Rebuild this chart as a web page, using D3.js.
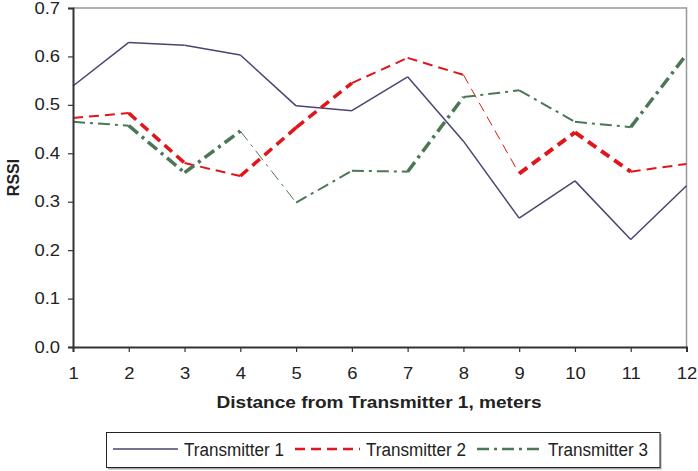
<!DOCTYPE html>
<html>
<head>
<meta charset="utf-8">
<script src="https://cdn.jsdelivr.net/npm/d3@7"></script>
<style>
  body { margin: 0; background: #fff; }
  text { font-family: "Liberation Sans", Arial, sans-serif; fill: #222; }
</style>
</head>
<body>
<script>
let w = 698;
let h = 471;

let distances = [1,2,3,4,5,6,7,8,9,10,11,12];
let tx1 = [0.539,0.629,0.623,0.603,0.498,0.488,0.558,0.425,0.266,0.343,0.222,0.333];
let tx2 = [0.473,0.483,0.380,0.353,0.453,0.545,0.597,0.562,0.358,0.443,0.362,0.378];
let tx3 = [0.465,0.457,0.360,0.446,0.298,0.364,0.362,0.516,0.530,0.465,0.454,0.604];
let seriesNames = ["Transmitter 1","Transmitter 2","Transmitter 3"];
let yTicks = [0,0.1,0.2,0.3,0.4,0.5,0.6,0.7];

// line widths per segment (the original rendering varies them)
let series = [
  {name: seriesNames[0], values: tx1, color: "#4b4371", dash: null,
   widths: [1.5,1.5,1.5,1.5,1.5,1.5,1.5,1.5,1.5,1.5,1.5]},
  {name: seriesNames[1], values: tx2, color: "#e0161b", dash: "10,6",
   widths: [2,3.5,2,3.5,3.5,2,2,1,4,4,2]},
  {name: seriesNames[2], values: tx3, color: "#4c7757", dash: "12,5,3,5",
   widths: [2,3.5,3.5,1,2,2,3.5,2,2,2,3.5]}
];

let margin = {left: 73, right: 11.5, top: 8, bottom: 124};

let x = d3.scaleLinear()
  .domain([1, 12])
  .range([margin.left, w - margin.right]);

let y = d3.scaleLinear()
  .domain([0, 0.7])
  .range([h - margin.bottom, margin.top]);

let svg = d3.select("body")
  .append("svg")
  .attr("width", w)
  .attr("height", h);

// stretch text horizontally like the source picture
function stretch(sel, k) {
  sel.each(function() {
    let len = this.getComputedTextLength();
    d3.select(this)
      .attr("textLength", len * k)
      .attr("lengthAdjust", "spacingAndGlyphs");
  });
}

// plot frame (top/right in grey)
svg.append("path")
  .attr("d", "M" + x(1) + "," + y(0.7) + "H" + x(12) + "V" + y(0))
  .attr("fill", "none")
  .attr("stroke", "#999")
  .attr("stroke-width", 1.5);

//Create lines, one segment at a time
series.forEach(function(s) {
  for (let i = 0; i < s.values.length - 1; i++) {
    svg.append("line")
      .attr("x1", x(distances[i]))
      .attr("y1", y(s.values[i]))
      .attr("x2", x(distances[i + 1]))
      .attr("y2", y(s.values[i + 1]))
      .attr("stroke", s.color)
      .attr("stroke-width", s.widths[i])
      .attr("stroke-dasharray", s.dash)
      .attr("stroke-linecap", "butt");
  }
});

//Axes
let xAxis = svg.append("g")
  .attr("transform", "translate(0," + y(0) + ")")
  .call(d3.axisBottom(x).tickValues(distances).tickFormat(d3.format("d")).tickSize(5).tickPadding(16));

let yAxis = svg.append("g")
  .attr("transform", "translate(" + x(1) + ",0)")
  .call(d3.axisLeft(y).tickValues(yTicks).tickFormat(d3.format(".1f")).tickSize(5).tickPadding(8));

[xAxis, yAxis].forEach(function(a) {
  a.select(".domain").attr("stroke", "#333").attr("stroke-width", 2);
  a.selectAll(".tick line").attr("stroke", "#333").attr("stroke-width", 1.2);
  a.selectAll("text")
    .attr("font-size", "16px")
    .attr("font-family", "Liberation Sans, Arial, sans-serif")
    .attr("fill", "#222")
    .call(stretch, 1.15);
});

//Axis titles
svg.append("text")
  .attr("x", 379)
  .attr("y", 408)
  .attr("text-anchor", "middle")
  .attr("font-size", "16px")
  .attr("font-weight", "bold")
  .text("Distance from Transmitter 1, meters")
  .attr("textLength", 325)
  .attr("lengthAdjust", "spacingAndGlyphs");

svg.append("text")
  .attr("transform", "translate(18.5," + (y(0.35)) + ") rotate(-90)")
  .attr("text-anchor", "middle")
  .attr("font-size", "16px")
  .attr("font-weight", "bold")
  .text("RSSI");

//Legend
let legendX = [113, 295, 477];
let legendRight = 660;
let legend = svg.append("g");
legend.append("rect")
  .attr("x", 108).attr("y", 434)
  .attr("width", legendRight - 106.5).attr("height", 35.5)
  .attr("fill", "#aaa");
legend.append("rect")
  .attr("x", 106.5).attr("y", 432.5)
  .attr("width", legendRight - 106.5).attr("height", 35)
  .attr("fill", "#fff")
  .attr("stroke", "#222")
  .attr("stroke-width", 1);

series.forEach(function(s, i) {
  legend.append("line")
    .attr("x1", legendX[i]).attr("x2", legendX[i] + 65)
    .attr("y1", 449).attr("y2", 449)
    .attr("stroke", s.color)
    .attr("stroke-width", i === 0 ? 1.5 : 2.5)
    .attr("stroke-dasharray", s.dash);
  legend.append("text")
    .attr("x", legendX[i] + 71)
    .attr("y", 455.5)
    .attr("font-size", "18px")
    .text(s.name)
    .attr("textLength", 100)
    .attr("lengthAdjust", "spacingAndGlyphs");
});
</script>
</body>
</html>
